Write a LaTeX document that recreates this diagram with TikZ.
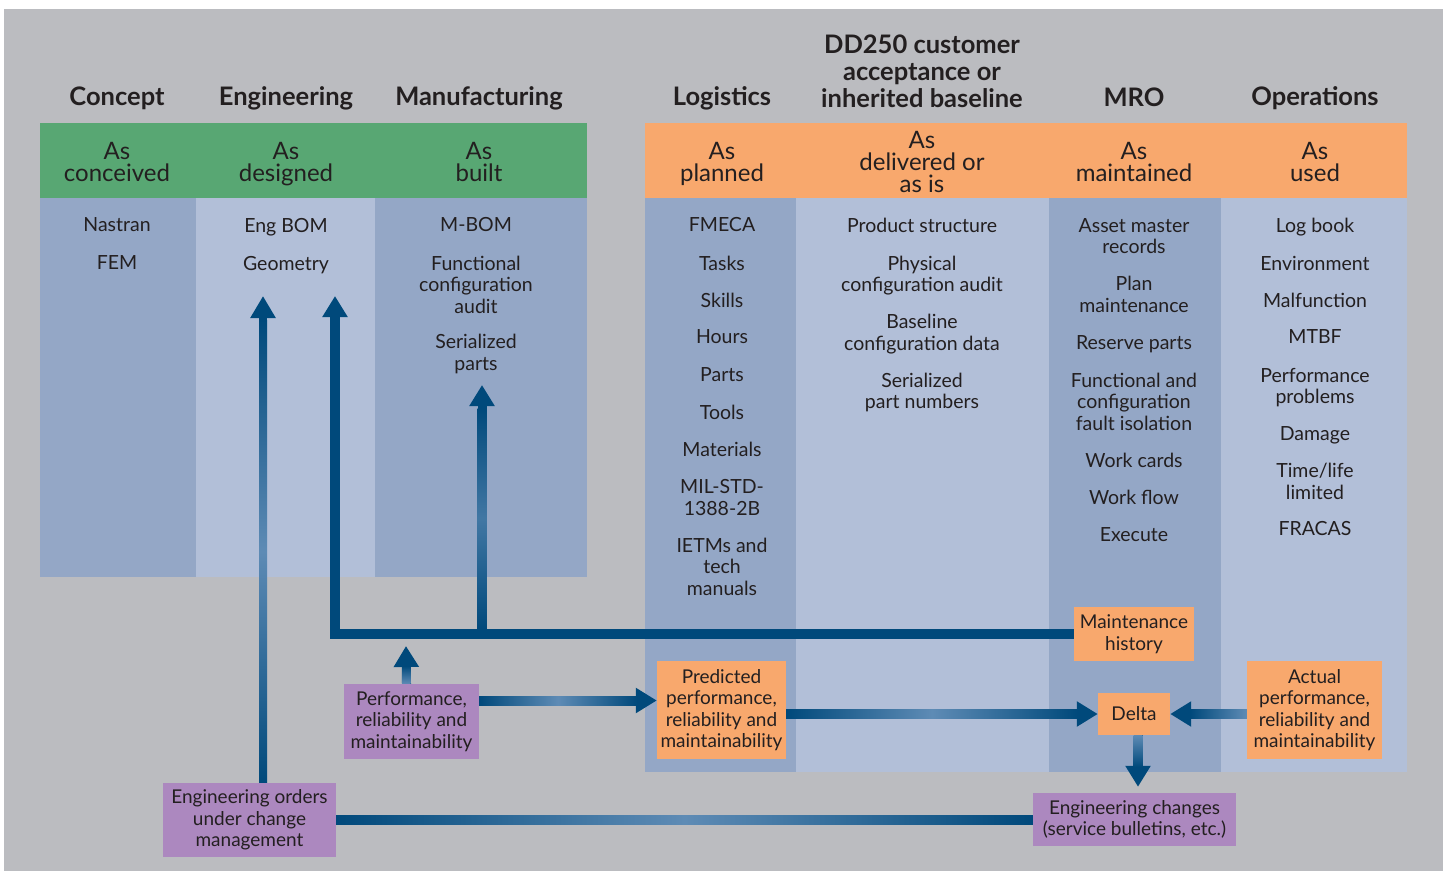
\documentclass[tikz,border=0pt]{standalone}
\usepackage{fontspec}
\setmainfont{Lato}
\usetikzlibrary{arrows.meta,calc}
\definecolor{bggray}{HTML}{BBBCC0}
\definecolor{grn}{HTML}{58A773}
\definecolor{orng}{HTML}{F8A86D}
\definecolor{coldark}{HTML}{94A7C6}
\definecolor{collight}{HTML}{B2BFD8}
\definecolor{purp}{HTML}{AC88BF}
\definecolor{ad}{HTML}{00497B}
\definecolor{al}{HTML}{5E8BB5}
\definecolor{txt}{HTML}{231F20}
\begin{document}
\begin{tikzpicture}[x=1pt,y=-1pt,
  hd/.style={font=\fontsize{25.5}{27}\selectfont\bfseries, align=center, inner sep=0pt, text=txt},
  band/.style={font=\fontsize{24}{22}\selectfont, align=center, inner sep=0pt, text=txt},
  item/.style={font=\fontsize{19.5}{21.5}\selectfont, align=center, inner sep=0pt, text=txt},
  obox/.style={fill=orng, font=\fontsize{19}{21.5}\selectfont, align=center, inner sep=0pt, text=txt},
  pbox/.style={fill=purp, font=\fontsize{19}{21.5}\selectfont, align=center, inner sep=0pt, text=txt},
  conn/.style={draw=ad, line width=9pt, line join=miter, -{Triangle[width=24pt,length=21pt]}},
  link/.style={draw=ad, line width=9pt}]
\useasboundingbox (0,0) rectangle (1445,871);
\fill[white] (0,0) rectangle (1445,871);
\fill[bggray] (4,9) rectangle (1443,871);
% columns
\fill[coldark] (40,198) rectangle (196,577);
\fill[collight] (196,198) rectangle (375,577);
\fill[coldark] (375,198) rectangle (587,577);
\fill[coldark] (645,198) rectangle (796,772);
\fill[collight] (796,198) rectangle (1049,772);
\fill[coldark] (1049,198) rectangle (1221,772);
\fill[collight] (1221,198) rectangle (1407,772);
% bands
\fill[grn] (40,123) rectangle (587,198);
\fill[orng] (645,123) rectangle (1407,198);
% headers
\node[hd] (hconc) at (117,98.5) {Concept};
\node[hd] (heng) at (286,98.5) {Engineering};
\node[hd] (hman) at (479,98.5) {Manufacturing};
\node[hd] (hlog) at (722,98.5) {Logistics};
\node[hd] (hdd) at (922,71) {DD250 customer\\acceptance or\\inherited baseline};
\node[hd] (hmro) at (1134,97) {MRO};
\node[hd] (hops) at (1315,98.5) {Operations};
% band texts
\node[band] (bconc) at (117,161.5) {As\\conceived};
\node[band] (beng) at (286,164) {As\\designed};
\node[band] (bman) at (479,161.5) {As\\built};
\node[band] (blog) at (722,164) {As\\planned};
\node[band] (bdd) at (922,161.5) {As\\delivered or\\as is};
\node[band] (bmro) at (1134,161.5) {As\\maintained};
\node[band] (bops) at (1315,161.5) {As\\used};
% concept
\node[item] (c1) at (117,225) {Nastran};
\node[item] (c2) at (117,263) {FEM};
% engineering
\node[item] (e1) at (286,227) {Eng BOM};
\node[item] (e2) at (286,265) {Geometry};
% manufacturing
\node[item] (m1) at (476,225) {M-BOM};
\node[item] (m2) at (476,284.5) {Functional\\configuration\\audit};
\node[item] (m3) at (476,354) {Serialized\\parts};
% logistics
\node[item] (l1) at (722,225) {FMECA};
\node[item] (l2) at (722,263) {Tasks};
\node[item] (l3) at (722,300) {Skills};
\node[item] (l4) at (722,337) {Hours};
\node[item] (l5) at (722,375) {Parts};
\node[item] (l6) at (722,412) {Tools};
\node[item] (l7) at (722,449) {Materials};
\node[item] (l8) at (722,497.5) {MIL-STD-\\1388-2B};
\node[item] (l9) at (722,566.5) {IETMs and\\tech\\manuals};
% DD250
\node[item] (d1) at (922,225) {Product structure};
\node[item] (d2) at (922,275.5) {Physical\\configuration audit};
\node[item] (d3) at (922,334) {Baseline\\configuration data};
\node[item] (d4) at (922,392.5) {Serialized\\part numbers};
% MRO
\node[item] (r1) at (1134,236) {Asset master\\records};
\node[item] (r2) at (1134,294.5) {Plan\\maintenance};
\node[item] (r3) at (1134,344) {Reserve parts};
\node[item] (r4) at (1134,401.5) {Functional and\\configuration\\fault isolation};
\node[item] (r5) at (1134,460) {Work cards};
\node[item] (r6) at (1134,497) {Work flow};
\node[item] (r7) at (1134,535) {Execute};
% operations
\node[item] (o1) at (1315,227) {Log book};
\node[item] (o2) at (1315,263) {Environment};
\node[item] (o3) at (1315,300) {Malfunction};
\node[item] (o4) at (1315,337) {MTBF};
\node[item] (o5) at (1315,387.5) {Performance\\problems};
\node[item] (o6) at (1315,435) {Damage};
\node[item] (o7) at (1315,481.5) {Time/life\\limited};
\node[item] (o8) at (1315,529) {FRACAS};
% boxes
\node[obox, minimum width=120pt, minimum height=54pt] (mh) at (1134,634) {Maintenance\\history};
\node[obox, minimum width=72pt, minimum height=42pt] (delta) at (1134,714) {Delta};
\node[obox, minimum width=135pt, minimum height=98pt] (act) at (1314.5,710) {Actual\\performance,\\reliability and\\maintainability};
\node[obox, minimum width=129pt, minimum height=98pt] (pred) at (721.5,710) {Predicted\\performance,\\reliability and\\maintainability};
\node[pbox, minimum width=135pt, minimum height=75pt] (perf) at (411.5,721.5) {Performance,\\reliability and\\maintainability};
\node[pbox, minimum width=173pt, minimum height=74pt] (eo) at (249.5,820) {Engineering orders\\under change\\management};
\node[pbox, minimum width=203pt, minimum height=53pt] (ec) at (1134.5,819.5) {Engineering changes\\(service bulletins, etc.)};
% free ends
\coordinate (tipA) at (263,296);
\coordinate (tipB) at (335,296);
\coordinate (tipC) at (482,385);
\coordinate (tipP) at (406,646);
\coordinate (eoTop) at ($(eo.north)+(13.5,0)$);
\coordinate (perfTop) at ($(perf.north)+(-5,0)$);
\coordinate (perfR) at ($(perf.east)+(0,-21)$);
% connectors
\draw[conn, line width=8pt, -{Triangle[width=24pt,length=22pt]}] (eoTop) -- (tipA);
\shade[top color=ad, bottom color=ad, middle color=al] ($(eoTop)+(-4,0)$) rectangle ($(tipA)+(4,24)$);
\draw[conn, line width=10pt] (mh.west) -| (tipB);
\draw[conn, line width=9pt] (mh.west -| tipC) -- (tipC);
\shade[top color=ad, bottom color=ad, middle color=al!70!ad] ($(mh.west -| tipC)+(-4.5,-5)$) rectangle ($(tipC)+(4.5,23)$);
\draw[conn] (perfTop) -- (tipP);
\shade[top color=ad, bottom color=al] ($(perfTop)+(-4.5,0)$) rectangle ($(tipP)+(4.5,20)$);
\draw[conn] (perfR) -- (perfR -| pred.west);
\shade[left color=ad, right color=ad, middle color=al] (perfR) ++(0,-4.5) rectangle ($(perfR -| pred.west)+(-20,4.5)$);
\draw[conn] (pred.east |- delta.west) -- (delta.west);
\shade[left color=ad, right color=ad, middle color=al] ($(pred.east |- delta.west)+(0,-4.5)$) rectangle ($(delta.west)+(-20,4.5)$);
\draw[conn] (act.west |- delta.east) -- (delta.east);
\shade[left color=ad, right color=al] ($(delta.east)+(20,-4.5)$) rectangle ($(act.west |- delta.east)+(0,4.5)$);
\draw[conn, shorten >=6pt] ($(delta.south)+(4,0)$) -- ($(ec.north)+(3.5,0)$);
\shade[top color=al, bottom color=ad] ($(delta.south)+(-0.5,0)$) rectangle ($(ec.north)+(8,-26)$);
\draw[link] (ec.west) -- (ec.west -| eo.east);
\shade[left color=ad, right color=ad, middle color=al] ($(ec.west -| eo.east)+(0,-4.5)$) rectangle ($(ec.west)+(0,4.5)$);
\end{tikzpicture}
\end{document}
